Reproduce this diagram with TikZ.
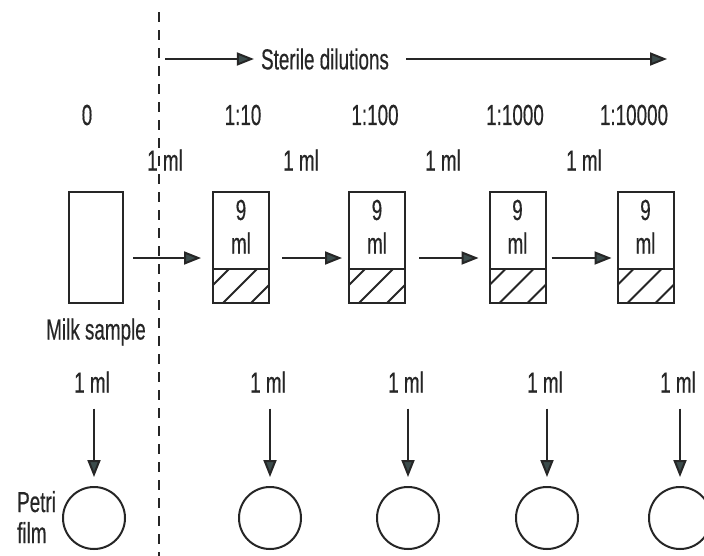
\documentclass[tikz,border=0pt]{standalone}
\usepackage{fontspec}
\setmainfont{Liberation Sans}[FakeStretch=0.65,FakeBold=0.4]
\usetikzlibrary{arrows.meta}
\definecolor{ink}{HTML}{262626}
\definecolor{txt}{HTML}{262626}
\definecolor{headc}{HTML}{3C4C4C}
\begin{document}
\begin{tikzpicture}[x=1pt,y=-1pt,
  every node/.style={font=\fontsize{29}{31}\selectfont, text=txt, inner sep=0pt},
  ln/.style={line width=2pt, draw=ink},
  arr/.style={ln, -{Triangle[length=17pt,width=13pt,fill=headc]}},
  tube/.style={ln, rectangle, minimum width=56pt, minimum height=111pt},
  dish/.style={ln, circle, minimum size=62pt},
]
\clip (0,0) rectangle (704,555);
\fill[white] (0,0) rectangle (704,555);

% dashed divider
\coordinate (dtop) at (159,12);
\coordinate (dbot) at (159,560);
\draw[ink, line width=2.6pt, dash pattern=on 10pt off 8pt] (dtop) -- (dbot);

% sterile dilutions
\coordinate (sa) at (165,59);
\coordinate (se) at (667,59);
\node (st) at (325,59) {Sterile dilutions};
\draw[arr, shorten >=7pt] (sa) -- (st.west);
\draw[arr, shorten <=17pt] (st.east) -- (se);

% dilution labels
\node (d0) at (87,115) {0};
\node (d1) at (243,115) {1:10};
\node (d2) at (375,115) {1:100};
\node (d3) at (515,115) {1:1000};
\node (d4) at (634,115) {1:10000};

% transfer labels
\node (v1) at (165,160) {1 ml};
\node (v2) at (301,160) {1 ml};
\node (v3) at (443,160) {1 ml};
\node (v4) at (584,160) {1 ml};

% milk sample
\node[tube, minimum width=54pt] (m) at (96,247.5) {};
\node (ml) at (96,332) {Milk sample};

% tubes
\foreach \n/\cx in {1/241,2/377,3/517.5,4/645.5} {
  \node[tube] (t\n) at (\cx,247.5) {};
  \node (n\n) at (\cx,210) {9};
  \node (u\n) at (\cx,243) {ml};
  \draw[ln] (\cx-28,269) -- (\cx+28,269);
  \begin{scope}
    \clip (\cx-28,269) rectangle (\cx+28,303);
    \foreach \a in {-18,10,38} \draw[ln] (\cx-28+\a,303) -- (\cx-28+\a+34,269);
  \end{scope}
}

% horizontal transfer arrows
\draw[arr, shorten <=9pt, shorten >=11pt] ([yshift=-10.5pt]m.east) -- ([yshift=-10.5pt]t1.west);
\draw[arr, shorten <=12pt, shorten >=6pt] ([yshift=-10.5pt]t1.east) -- ([yshift=-10.5pt]t2.west);
\draw[arr, shorten <=13pt, shorten >=10pt] ([yshift=-10.5pt]t2.east) -- ([yshift=-10.5pt]t3.west);
\draw[arr, shorten <=5pt, shorten >=5pt] ([yshift=-10.5pt]t3.east) -- ([yshift=-10.5pt]t4.west);

% plating
\foreach \k/\cx in {0/94,1/270,2/408,3/547,4/680} {
  \node (p\k) at (\cx-2,382) {1 ml};
  \node[dish] (c\k) at (\cx,518) {};
  \draw[arr, shorten <=16pt, shorten >=9pt] (p\k.south -| c\k) -- (c\k.north);
}

\node[anchor=west, align=left] (pf) at (17,517) {Petri\\film};
\end{tikzpicture}
\end{document}
